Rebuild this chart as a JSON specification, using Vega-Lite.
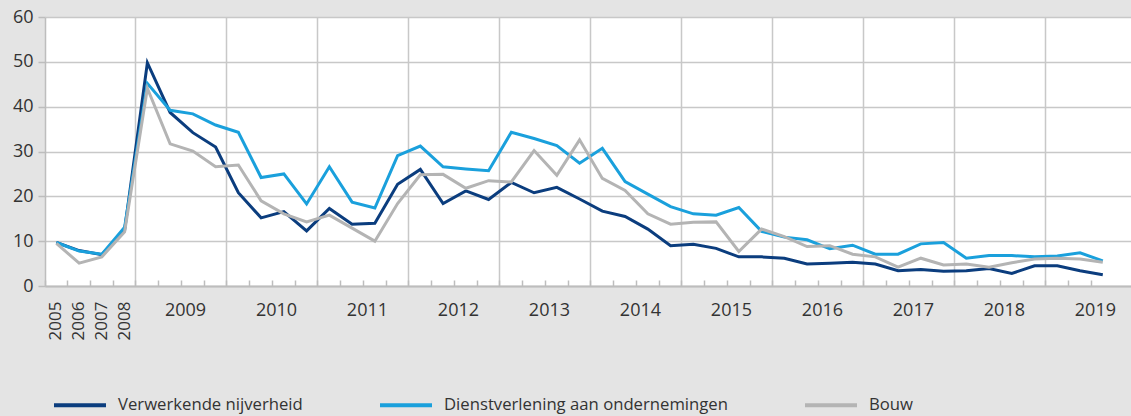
{
  "$schema": "https://vega.github.io/schema/vega-lite/v6.json",
  "autosize": "none",
  "padding": {"left": 45, "top": 17, "right": 0, "bottom": 130},
  "width": 1086,
  "height": 269,
  "background": "#e4e4e4",
  "config": {"view": {"fill": "white", "stroke": null}, "font": "Open Sans"},
  "data": {"values": [
    {"period": "2005", "Verwerkende nijverheid": 9.7, "Dienstverlening aan ondernemingen": 9.7, "Bouw": 9.5},
    {"period": "2006", "Verwerkende nijverheid": 7.9, "Dienstverlening aan ondernemingen": 7.8, "Bouw": 5.1},
    {"period": "2007", "Verwerkende nijverheid": 7.0, "Dienstverlening aan ondernemingen": 7.1, "Bouw": 6.5},
    {"period": "2008", "Verwerkende nijverheid": 12.5, "Dienstverlening aan ondernemingen": 13.1, "Bouw": 12.1},
    {"period": "2009-K1", "Verwerkende nijverheid": 49.8, "Dienstverlening aan ondernemingen": 45.2, "Bouw": 44.1},
    {"period": "2009-K2", "Verwerkende nijverheid": 38.7, "Dienstverlening aan ondernemingen": 39.2, "Bouw": 31.7},
    {"period": "2009-K3", "Verwerkende nijverheid": 34.2, "Dienstverlening aan ondernemingen": 38.4, "Bouw": 30.1},
    {"period": "2009-K4", "Verwerkende nijverheid": 31.0, "Dienstverlening aan ondernemingen": 35.9, "Bouw": 26.6},
    {"period": "2010-K1", "Verwerkende nijverheid": 20.8, "Dienstverlening aan ondernemingen": 34.3, "Bouw": 27.0},
    {"period": "2010-K2", "Verwerkende nijverheid": 15.2, "Dienstverlening aan ondernemingen": 24.2, "Bouw": 19.0},
    {"period": "2010-K3", "Verwerkende nijverheid": 16.6, "Dienstverlening aan ondernemingen": 25.0, "Bouw": 16.1},
    {"period": "2010-K4", "Verwerkende nijverheid": 12.3, "Dienstverlening aan ondernemingen": 18.3, "Bouw": 14.3},
    {"period": "2011-K1", "Verwerkende nijverheid": 17.3, "Dienstverlening aan ondernemingen": 26.6, "Bouw": 15.8},
    {"period": "2011-K2", "Verwerkende nijverheid": 13.8, "Dienstverlening aan ondernemingen": 18.7, "Bouw": 12.9},
    {"period": "2011-K3", "Verwerkende nijverheid": 14.0, "Dienstverlening aan ondernemingen": 17.4, "Bouw": 10.0},
    {"period": "2011-K4", "Verwerkende nijverheid": 22.7, "Dienstverlening aan ondernemingen": 29.1, "Bouw": 18.4},
    {"period": "2012-K1", "Verwerkende nijverheid": 26.0, "Dienstverlening aan ondernemingen": 31.2, "Bouw": 24.8},
    {"period": "2012-K2", "Verwerkende nijverheid": 18.4, "Dienstverlening aan ondernemingen": 26.6, "Bouw": 24.9},
    {"period": "2012-K3", "Verwerkende nijverheid": 21.2, "Dienstverlening aan ondernemingen": 26.1, "Bouw": 21.8},
    {"period": "2012-K4", "Verwerkende nijverheid": 19.3, "Dienstverlening aan ondernemingen": 25.7, "Bouw": 23.5},
    {"period": "2013-K1", "Verwerkende nijverheid": 23.1, "Dienstverlening aan ondernemingen": 34.3, "Bouw": 23.2},
    {"period": "2013-K2", "Verwerkende nijverheid": 20.8, "Dienstverlening aan ondernemingen": 32.9, "Bouw": 30.2},
    {"period": "2013-K3", "Verwerkende nijverheid": 22.0, "Dienstverlening aan ondernemingen": 31.3, "Bouw": 24.7},
    {"period": "2013-K4", "Verwerkende nijverheid": 19.4, "Dienstverlening aan ondernemingen": 27.4, "Bouw": 32.6},
    {"period": "2014-K1", "Verwerkende nijverheid": 16.7, "Dienstverlening aan ondernemingen": 30.7, "Bouw": 24.0},
    {"period": "2014-K2", "Verwerkende nijverheid": 15.5, "Dienstverlening aan ondernemingen": 23.3, "Bouw": 21.3},
    {"period": "2014-K3", "Verwerkende nijverheid": 12.7, "Dienstverlening aan ondernemingen": 20.5, "Bouw": 16.1},
    {"period": "2014-K4", "Verwerkende nijverheid": 9.0, "Dienstverlening aan ondernemingen": 17.7, "Bouw": 13.8},
    {"period": "2015-K1", "Verwerkende nijverheid": 9.3, "Dienstverlening aan ondernemingen": 16.1, "Bouw": 14.2},
    {"period": "2015-K2", "Verwerkende nijverheid": 8.4, "Dienstverlening aan ondernemingen": 15.8, "Bouw": 14.3},
    {"period": "2015-K3", "Verwerkende nijverheid": 6.5, "Dienstverlening aan ondernemingen": 17.5, "Bouw": 7.7},
    {"period": "2015-K4", "Verwerkende nijverheid": 6.5, "Dienstverlening aan ondernemingen": 12.2, "Bouw": 12.7},
    {"period": "2016-K1", "Verwerkende nijverheid": 6.2, "Dienstverlening aan ondernemingen": 10.9, "Bouw": 11.0},
    {"period": "2016-K2", "Verwerkende nijverheid": 4.9, "Dienstverlening aan ondernemingen": 10.3, "Bouw": 8.8},
    {"period": "2016-K3", "Verwerkende nijverheid": 5.1, "Dienstverlening aan ondernemingen": 8.3, "Bouw": 9.0},
    {"period": "2016-K4", "Verwerkende nijverheid": 5.3, "Dienstverlening aan ondernemingen": 9.1, "Bouw": 7.1},
    {"period": "2017-K1", "Verwerkende nijverheid": 4.9, "Dienstverlening aan ondernemingen": 7.1, "Bouw": 6.5},
    {"period": "2017-K2", "Verwerkende nijverheid": 3.4, "Dienstverlening aan ondernemingen": 7.1, "Bouw": 4.2},
    {"period": "2017-K3", "Verwerkende nijverheid": 3.7, "Dienstverlening aan ondernemingen": 9.4, "Bouw": 6.2},
    {"period": "2017-K4", "Verwerkende nijverheid": 3.3, "Dienstverlening aan ondernemingen": 9.7, "Bouw": 4.7},
    {"period": "2018-K1", "Verwerkende nijverheid": 3.4, "Dienstverlening aan ondernemingen": 6.2, "Bouw": 4.9},
    {"period": "2018-K2", "Verwerkende nijverheid": 3.9, "Dienstverlening aan ondernemingen": 6.8, "Bouw": 4.2},
    {"period": "2018-K3", "Verwerkende nijverheid": 2.8, "Dienstverlening aan ondernemingen": 6.8, "Bouw": 5.2},
    {"period": "2018-K4", "Verwerkende nijverheid": 4.5, "Dienstverlening aan ondernemingen": 6.5, "Bouw": 6.0},
    {"period": "2019-K1", "Verwerkende nijverheid": 4.5, "Dienstverlening aan ondernemingen": 6.7, "Bouw": 6.2},
    {"period": "2019-K2", "Verwerkende nijverheid": 3.4, "Dienstverlening aan ondernemingen": 7.4, "Bouw": 6.0},
    {"period": "2019-K3", "Verwerkende nijverheid": 2.5, "Dienstverlening aan ondernemingen": 5.6, "Bouw": 5.3}
  ]},
  "transform": [
    {"fold": ["Verwerkende nijverheid", "Dienstverlening aan ondernemingen", "Bouw"], "as": ["series", "value"]}
  ],
  "mark": {"type": "line", "strokeWidth": 3},
  "encoding": {
    "x": {
      "field": "period",
      "type": "ordinal",
      "bandPosition": 0.5,
      "scale": {
        "type": "band",
        "domain": ["2005", "2006", "2007", "2008",
          "2009-K1", "2009-K2", "2009-K3", "2009-K4",
          "2010-K1", "2010-K2", "2010-K3", "2010-K4",
          "2011-K1", "2011-K2", "2011-K3", "2011-K4",
          "2012-K1", "2012-K2", "2012-K3", "2012-K4",
          "2013-K1", "2013-K2", "2013-K3", "2013-K4",
          "2014-K1", "2014-K2", "2014-K3", "2014-K4",
          "2015-K1", "2015-K2", "2015-K3", "2015-K4",
          "2016-K1", "2016-K2", "2016-K3", "2016-K4",
          "2017-K1", "2017-K2", "2017-K3", "2017-K4",
          "2018-K1", "2018-K2", "2018-K3", "2018-K4",
          "2019-K1", "2019-K2", "2019-K3"],
        "paddingInner": 0,
        "paddingOuter": 0.37,
        "align": 0,
        "round": false
      },
      "axis": {
        "title": null,
        "bandPosition": 0,
        "labelExpr": "length(datum.value) == 4 ? datum.value : (indexof(datum.value, 'K3') > 0 ? substring(datum.value, 0, 4) : '')",
        "labelOverlap": false,
        "labelBound": false,
        "labelFlush": false,
        "labelFontSize": 18,
        "labelColor": "#333333",
        "labelPadding": 21,
        "tickSize": -6,
        "tickColor": "#bdbdbd",
        "tickWidth": 1.5,
        "domainColor": "#bdbdbd",
        "domainWidth": 2,
        "grid": true,
        "gridColor": "#c8c8c8",
        "gridWidth": 1.5,
        "gridOpacity": {"condition": {"test": "indexof(datum.value, 'K1') > 0", "value": 1}, "value": 0},
        "encoding": {
          "labels": {
            "angle": {"condition": {"test": "length(datum.value) == 4", "value": 270}, "value": 0},
            "align": {"condition": {"test": "length(datum.value) == 4", "value": "right"}, "value": "center"},
            "baseline": {"condition": {"test": "length(datum.value) == 4", "value": "middle"}, "value": "top"},
            "dx": {"condition": {"test": "length(datum.value) == 4", "value": 0}, "value": -7.4},
            "fontSize": {"condition": {"test": "length(datum.value) == 4", "value": 17}, "value": 18}
          }
        }
      }
    },
    "y": {
      "field": "value",
      "type": "quantitative",
      "scale": {"domain": [0, 60], "nice": false},
      "axis": {
        "title": null,
        "values": [0, 10, 20, 30, 40, 50, 60],
        "labelFontSize": 18,
        "labelColor": "#333333",
        "labelPadding": 5,
        "tickSize": 7,
        "tickColor": "#bdbdbd",
        "tickWidth": 1.5,
        "domainColor": "#bdbdbd",
        "domainWidth": 1.5,
        "gridColor": "#c8c8c8",
        "gridWidth": 1.5
      }
    },
    "color": {
      "field": "series",
      "type": "nominal",
      "scale": {
        "domain": ["Verwerkende nijverheid", "Dienstverlening aan ondernemingen", "Bouw"],
        "range": ["#0b3d7e", "#1aa0dc", "#b4b4b4"]
      },
      "legend": {
        "title": null,
        "orient": "none",
        "legendX": 7,
        "legendY": 360,
        "direction": "horizontal",
        "symbolType": "stroke",
        "symbolSize": 2704,
        "symbolStrokeWidth": 4,
        "labelFontSize": 16.7,
        "labelColor": "#333333",
        "labelOffset": 10,
        "labelLimit": 500,
        "columnPadding": 69
      }
    }
  }
}
